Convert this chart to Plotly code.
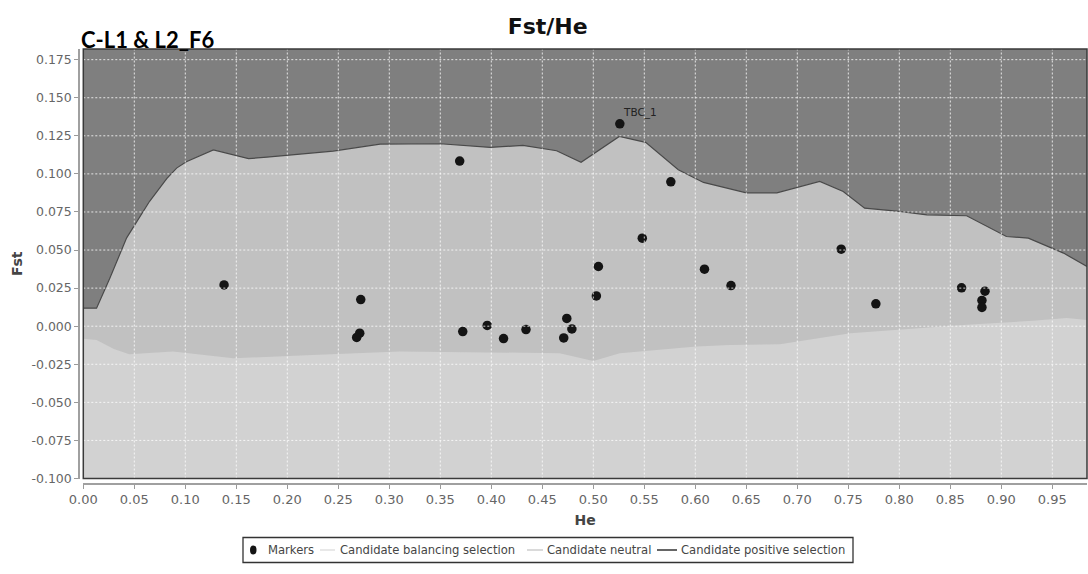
import plotly.graph_objects as go

# Upper simulated quantile boundary (neutral / positive selection)
he_upper = [0.000, 0.013, 0.026, 0.0425, 0.065, 0.082, 0.0915, 0.101, 0.1275, 0.162,
            0.180, 0.245, 0.291, 0.350, 0.399, 0.431, 0.464, 0.488, 0.5255, 0.5513,
            0.5833, 0.608, 0.650, 0.680, 0.722, 0.745, 0.766, 0.800, 0.827, 0.866,
            0.905, 0.9265, 0.961, 0.984]
fst_upper = [0.0118, 0.0118, 0.0315, 0.058, 0.082, 0.097, 0.1038, 0.108, 0.1158, 0.110,
             0.111, 0.115, 0.1196, 0.1198, 0.1174, 0.1187, 0.1152, 0.1076, 0.1246, 0.1207,
             0.1027, 0.0944, 0.0876, 0.0876, 0.0951, 0.0885, 0.0775, 0.0754, 0.0731, 0.0725,
             0.0589, 0.0578, 0.048, 0.0392]

# Lower simulated quantile boundary (balancing selection / neutral)
he_lower = [0.000, 0.013, 0.030, 0.045, 0.088, 0.147, 0.2125, 0.310, 0.389, 0.467, 0.500,
            0.526, 0.601, 0.634, 0.683, 0.752, 0.866, 0.931, 0.964, 0.984]
fst_lower = [-0.0083, -0.009, -0.0150, -0.0185, -0.0166, -0.021, -0.0193, -0.0166, -0.0171, -0.0177, -0.0228,
             -0.0177, -0.0134, -0.0123, -0.0118, -0.0046, 0.0009, 0.0035, 0.0053, 0.0041]

# Observed markers
marker_he = [0.138, 0.272, 0.271, 0.268, 0.369, 0.372, 0.396, 0.412, 0.434, 0.471,
             0.474, 0.479, 0.503, 0.505, 0.526, 0.548, 0.576, 0.609, 0.635, 0.743,
             0.777, 0.861, 0.884, 0.881, 0.881]
marker_fst = [0.0271, 0.0175, -0.0046, -0.0074, 0.1084, -0.0035, 0.0005, -0.0081, -0.0022, -0.0077,
              0.0051, -0.0018, 0.0199, 0.0392, 0.1329, 0.0578, 0.0948, 0.0374, 0.0267, 0.0506,
              0.0147, 0.0252, 0.0230, 0.0169, 0.0123]
marker_labels = [""] * 14 + ["TBC_1"] + [""] * 10

x_tick_vals = [i * 0.05 for i in range(20)]
x_tick_text = ["0.00", "0.05", "0.10", "0.15", "0.20", "0.25", "0.30", "0.35", "0.40", "0.45",
               "0.50", "0.55", "0.60", "0.65", "0.70", "0.75", "0.80", "0.85", "0.90", "0.95"]
y_tick_vals = [-0.100, -0.075, -0.050, -0.025, 0.000, 0.025, 0.050, 0.075, 0.100, 0.125, 0.150, 0.175]
y_tick_text = ["-0.100", "-0.075", "-0.050", "-0.025", "0.000", "0.025", "0.050", "0.075",
               "0.100", "0.125", "0.150", "0.175"]

X_RANGE = [0.0, 0.984]
Y_RANGE = [-0.100, 0.182]

C_BAL = "#d2d2d2"
C_NEU = "#c1c1c1"
C_POS = "#7f7f7f"
C_EDGE = "#4a4a4a"
C_MARK = "#141414"
FONT = "DejaVu Sans"

fig = go.Figure()

# Balancing region: below lower boundary
fig.add_trace(go.Scatter(
    x=he_lower + [X_RANGE[1], X_RANGE[0]],
    y=fst_lower + [Y_RANGE[0], Y_RANGE[0]],
    fill="toself", fillcolor=C_BAL, mode="lines", line=dict(width=0, color=C_BAL),
    name="Candidate balancing selection", hoverinfo="skip"))

# Neutral region: between boundaries
fig.add_trace(go.Scatter(
    x=he_upper + he_lower[::-1],
    y=fst_upper + fst_lower[::-1],
    fill="toself", fillcolor=C_NEU, mode="lines", line=dict(width=0, color=C_NEU),
    name="Candidate neutral", hoverinfo="skip"))

# Positive selection region: above upper boundary
fig.add_trace(go.Scatter(
    x=he_upper + [X_RANGE[1], X_RANGE[0]],
    y=fst_upper + [Y_RANGE[1], Y_RANGE[1]],
    fill="toself", fillcolor=C_POS, mode="lines", line=dict(width=0, color=C_POS),
    name="Candidate positive selection", hoverinfo="skip"))

# Upper boundary outline
fig.add_trace(go.Scatter(
    x=he_upper, y=fst_upper, mode="lines",
    line=dict(color=C_EDGE, width=1.2), showlegend=False, hoverinfo="skip"))

fig.add_trace(go.Scatter(
    x=marker_he, y=marker_fst, mode="markers", name="Markers",
    marker=dict(size=9.5, color=C_MARK, line=dict(width=0))))

# Pixel geometry of the paper area
PX_L, PX_R, PX_T, PX_B = 79, 1087, 49, 484


def px_x(px):
    return (px - PX_L) / (PX_R - PX_L)


def px_y(py):
    return (PX_B - py) / (PX_B - PX_T)


shapes = []
# dotted white grid drawn over the filled regions
for v in x_tick_vals[1:]:
    shapes.append(dict(type="line", xref="x", yref="y domain", x0=v, x1=v, y0=0, y1=1,
                       line=dict(color="rgba(255,255,255,0.8)", width=1, dash="2px,2px"),
                       layer="above"))
for v in y_tick_vals[1:]:
    shapes.append(dict(type="line", xref="x domain", yref="y", x0=0, x1=1, y0=v, y1=v,
                       line=dict(color="rgba(255,255,255,0.8)", width=1, dash="2px,2px"),
                       layer="above"))
# plot frame
shapes.append(dict(type="rect", xref="x domain", yref="y domain", x0=0, x1=1, y0=0, y1=1,
                   line=dict(color="#3a3a3a", width=1.5), fillcolor="rgba(0,0,0,0)", layer="above"))

# legend box
LEG_Y = 550
shapes.append(dict(type="rect", xref="paper", yref="paper",
                   x0=px_x(243), x1=px_x(853), y0=px_y(562.5), y1=px_y(537.5),
                   line=dict(color="#333333", width=1.3), fillcolor="white"))
shapes.append(dict(type="circle", xref="paper", yref="paper",
                   x0=px_x(250), x1=px_x(256.5), y0=px_y(554.5), y1=px_y(545.5),
                   line=dict(width=0), fillcolor=C_MARK))
for (a, b, col, w) in [(320, 335, "#d8d8d8", 1.2), (527, 543, C_NEU, 1.2), (657, 677, "#333333", 1.5)]:
    shapes.append(dict(type="line", xref="paper", yref="paper",
                       x0=px_x(a), x1=px_x(b), y0=px_y(LEG_Y), y1=px_y(LEG_Y),
                       line=dict(color=col, width=w)))

annotations = []
for (left, txt) in [(267, "Markers"), (339, "Candidate balancing selection"),
                    (546, "Candidate neutral"), (679.5, "Candidate positive selection")]:
    annotations.append(dict(xref="paper", yref="paper", x=px_x(left - 1), y=px_y(LEG_Y),
                            xanchor="left", yanchor="middle", showarrow=False, text=txt,
                            font=dict(family=FONT, size=11.6, color="#454545")))

annotations.append(dict(xref="paper", yref="paper", x=px_x(79), y=px_y(39),
                        xanchor="left", yanchor="middle", showarrow=False,
                        text="<b>C-L1 &amp; L2_F6</b>",
                        font=dict(family="Lato", size=22, color="#000000")))

for hx, fy, lab in zip(marker_he, marker_fst, marker_labels):
    if lab:
        annotations.append(dict(x=hx, y=fy, xref="x", yref="y", xanchor="left", yanchor="middle",
                                xshift=1, yshift=11, showarrow=False, text=lab,
                                font=dict(family=FONT, size=10.5, color="#222222")))

fig.update_layout(
    width=1088, height=574,
    margin=dict(l=PX_L, r=1088 - PX_R, t=PX_T, b=574 - PX_B, pad=0),
    paper_bgcolor="white", plot_bgcolor=C_BAL,
    showlegend=False,
    title=dict(text="<b>Fst/He</b>", x=547.7 / 1088, xanchor="center", xref="container",
               y=1 - 26.7 / 574, yanchor="middle", yref="container",
               font=dict(family=FONT, size=22, color="#111111")),
    shapes=shapes, annotations=annotations,
    xaxis=dict(domain=[px_x(83.3), 1], range=X_RANGE, anchor="free", position=0,
               tickvals=x_tick_vals, ticktext=x_tick_text,
               ticks="outside", ticklen=4, tickcolor="#9a9a9a", tickwidth=1,
               showline=True, linecolor="#a0a0a0", linewidth=1.5,
               showgrid=False, zeroline=False,
               tickfont=dict(family=FONT, size=13, color="#666666"),
               title=dict(text="<b>He</b>", standoff=8,
                          font=dict(family=FONT, size=14, color="#444444"))),
    yaxis=dict(domain=[px_y(478.5), 1], range=Y_RANGE, anchor="free", position=0,
               tickvals=y_tick_vals, ticktext=y_tick_text,
               ticks="outside", ticklen=4, tickcolor="#9a9a9a", tickwidth=1,
               showline=True, linecolor="#a0a0a0", linewidth=1.5,
               showgrid=False, zeroline=False,
               tickfont=dict(family=FONT, size=12.5, color="#666666"),
               title=dict(text="<b>Fst</b>", standoff=5,
                          font=dict(family=FONT, size=14, color="#444444"))),
)

fig.write_html("out.html")
